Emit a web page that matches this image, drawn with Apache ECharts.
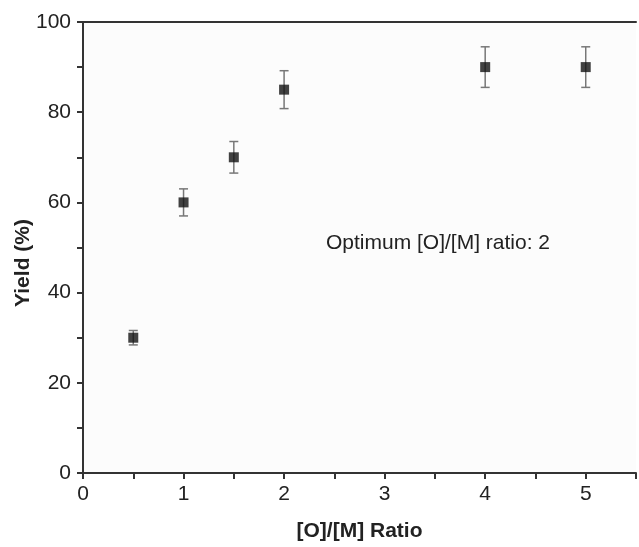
<!DOCTYPE html>
<html>
<head>
<meta charset="utf-8">
<script src="https://cdn.jsdelivr.net/npm/echarts@6/dist/echarts.min.js"></script>
<style>html,body{margin:0;padding:0;background:#fff;}#c{width:639px;height:547px;}</style>
</head>
<body>
<div id="c"></div>
<script>
const ratios = [0.5, 1, 1.5, 2, 4, 5];
const yields = [30, 60, 70, 85, 90, 90];
const errors = [1.6, 3, 3.5, 4.2, 4.5, 4.5];
const xTicks = [0, 1, 2, 3, 4, 5];
const yTicks = [0, 20, 40, 60, 80, 100];
const xTitle = '[O]/[M] Ratio';
const yTitle = 'Yield (%)';
const annotation = 'Optimum [O]/[M] ratio: 2';

const pts = ratios.map((r, i) => [r, yields[i]]);
const errData = ratios.map((r, i) => [r, yields[i] - errors[i], yields[i] + errors[i]]);
const font = 'Liberation Sans, Arial, sans-serif';
const axisColor = '#333';

const chart = echarts.init(document.getElementById('c'), null, {renderer: 'canvas'});
chart.setOption({
  animation: false,
  backgroundColor: '#fff',
  grid: {left: 83, width: 561, top: 22, bottom: 69, backgroundColor: '#fcfcfc', show: true, borderWidth: 0},
  xAxis: [{
    type: 'value', min: 0, max: 5.5, interval: 0.5,
    name: xTitle, nameLocation: 'middle', nameGap: 48,
    nameTextStyle: {fontFamily: font, fontSize: 21, fontWeight: 'bold', color: '#222'},
    axisLine: {show: true, onZero: false, lineStyle: {color: axisColor, width: 2}},
    axisTick: {show: true, inside: false, length: 6, lineStyle: {color: axisColor, width: 2}},
    axisLabel: {fontFamily: font, fontSize: 21, color: '#222', margin: 11,
      formatter: v => xTicks.includes(v) ? String(v) : ''},
    splitLine: {show: false}
  }, {
    type: 'value', position: 'top', min: 0, max: 5.5,
    axisLine: {show: true, onZero: false, lineStyle: {color: axisColor, width: 2}},
    axisTick: {show: false}, axisLabel: {show: false}, splitLine: {show: false}
  }],
  yAxis: {
    type: 'value', min: 0, max: 100, interval: 10,
    axisLine: {show: true, onZero: false, lineStyle: {color: axisColor, width: 2}},
    axisTick: {show: true, inside: false, length: 6, lineStyle: {color: axisColor, width: 2}},
    axisLabel: {fontFamily: font, fontSize: 21, color: '#222', margin: 12,
      formatter: v => yTicks.includes(v) ? String(v) : ''},
    splitLine: {show: false}
  },
  series: [{
    type: 'custom',
    data: errData,
    z: 2,
    renderItem: function (params, api) {
      const x = api.value(0);
      const lo = api.coord([x, api.value(1)]);
      const hi = api.coord([x, api.value(2)]);
      const w = 4.5;
      const st = {stroke: '#777', lineWidth: 1.5};
      return {type: 'group', children: [
        {type: 'line', shape: {x1: lo[0], y1: lo[1], x2: hi[0], y2: hi[1]}, style: st},
        {type: 'line', shape: {x1: lo[0] - w, y1: lo[1], x2: lo[0] + w, y2: lo[1]}, style: st},
        {type: 'line', shape: {x1: hi[0] - w, y1: hi[1], x2: hi[0] + w, y2: hi[1]}, style: st}
      ]};
    }
  }, {
    type: 'scatter',
    data: pts,
    symbol: 'rect',
    symbolSize: 10,
    z: 3,
    itemStyle: {color: '#111'}
  }],
  graphic: [{
    type: 'text', left: 326, top: 233, z: 10,
    style: {text: annotation, fontFamily: font, fontSize: 21, fill: '#222'}
  }, {
    type: 'text', x: 23, y: 263, rotation: Math.PI / 2, z: 10,
    style: {text: yTitle, fontFamily: font, fontSize: 21, fontWeight: 'bold', fill: '#222',
      align: 'center', verticalAlign: 'middle'}
  }]
});
</script>
</body>
</html>
